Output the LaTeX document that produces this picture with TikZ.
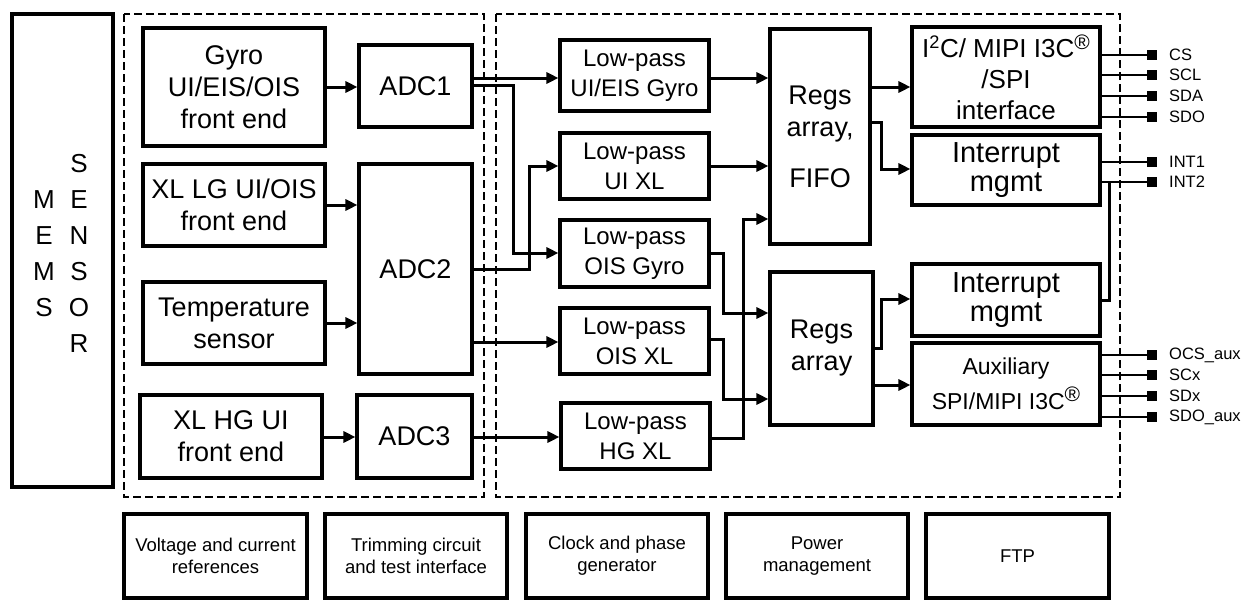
\documentclass[tikz,border=0pt]{standalone}
\usepackage{fontspec}
\setmainfont{Liberation Sans}
\usetikzlibrary{arrows.meta}
\newcommand\mybox[7][]{\node[box,#1,minimum width={#4-#2},minimum height={#5-#3}] (#6) at ({(#2+#4)/2},{(#3+#5)/2}) {#7};}
\newcommand\regmark{\raisebox{8pt}{\fontsize{21}{21}\selectfont\textregistered}}
\begin{document}
\begin{tikzpicture}[x=1pt,y=-1pt,
  box/.style={draw, line width=3.1pt, inner sep=0pt, align=center, font=\fontsize{27}{32}\selectfont},
  lp/.style={font=\fontsize{24}{30}\selectfont},
  small/.style={font=\fontsize{18.5}{22}\selectfont},
  arr/.style={line width=3pt, -{Triangle[length=12pt,width=11pt]}},
  wire/.style={line width=2.6pt},
  dbox/.style={draw, line width=2.4pt, dash pattern=on 8pt off 4pt},
  pinsq/.style={fill, minimum size=10pt, inner sep=0pt},
  pinlab/.style={anchor=west, font=\fontsize{16.5}{18}\selectfont, inner sep=0pt}]
\useasboundingbox (0,0) rectangle (1256,613);

% dashed groups
\draw[dbox] (124,14) rectangle (484,497);
\draw[dbox] (496,14) rectangle (1120,497);

% MEMS sensor
\mybox{12}{14}{113}{487}{mems}{}
\node[align=center, font=\fontsize{26}{36}\selectfont, inner sep=0pt] (memsL) at (44,254) {M\\E\\M\\S};
\node[align=center, font=\fontsize{26}{36}\selectfont, inner sep=0pt] (memsR) at (79,253) {S\\E\\N\\S\\O\\R};

% front ends and ADCs
\mybox{143}{28}{325}{146}{gyro}{Gyro\\UI/EIS/OIS\\front end}
\mybox{359}{45}{472}{127}{adc1}{ADC1}
\mybox{143}{164}{325}{246}{xllg}{XL LG UI/OIS\\front end}
\mybox{359}{164}{472}{374}{adc2}{ADC2}
\mybox{143}{282}{325}{364}{temp}{Temperature\\sensor}
\mybox{140}{395}{322}{478}{xlhg}{XL HG UI\\front end}
\mybox{357}{395}{472}{478}{adc3}{ADC3}

% low-pass filters
\mybox[lp]{560}{40}{709}{111}{lp1}{Low-pass\\UI/EIS Gyro}
\mybox[lp]{560}{133}{709}{199}{lp2}{Low-pass\\UI XL}
\mybox[lp]{560}{220}{709}{287}{lp3}{Low-pass\\OIS Gyro}
\mybox[lp]{560}{308}{709}{374}{lp4}{Low-pass\\OIS XL}
\mybox[lp]{561}{403}{710}{469}{lp5}{Low-pass\\HG XL}

% registers
\mybox{770}{29}{870}{244}{regs1}{Regs\\array,\\[19pt]FIFO}
\mybox{770}{272}{873}{425}{regs2}{Regs\\array}

% interfaces
\mybox[font=\fontsize{26}{31}\selectfont]{912}{27}{1100}{127}{i2c}{I\textsuperscript{2}C/ MIPI I3C\regmark\\/SPI\\interface}
\mybox[font=\fontsize{29}{29}\selectfont]{912}{135}{1100}{205}{int1}{Interrupt\\mgmt}
\mybox[font=\fontsize{29}{29}\selectfont]{912}{264}{1100}{336}{int2}{Interrupt\\mgmt}
\mybox[font=\fontsize{23}{35}\selectfont]{912}{343}{1100}{425}{aux}{Auxiliary\\SPI/MIPI I3C\regmark}

% bottom blocks
\mybox[small]{124}{514}{307}{598}{vref}{Voltage and current\\references}
\mybox[small]{325}{514}{507}{598}{trim}{Trimming circuit\\and test interface}
\mybox[small]{526}{514}{708}{598}{clk}{Clock and phase\\generator}
\mybox[small]{726}{514}{908}{598}{pwr}{Power\\management}
\mybox[small]{926}{514}{1109}{598}{ftp}{FTP}

% front ends -> ADCs
\draw[arr] (gyro.east |- 0,87) -- (adc1.west |- 0,87);
\draw[arr] (xllg.east |- 0,205) -- (adc2.west |- 0,205);
\draw[arr] (temp.east |- 0,323) -- (adc2.west |- 0,323);
\draw[arr] (xlhg.east |- 0,437) -- (adc3.west |- 0,437);

% ADCs -> low-pass
\draw[arr] (adc1.east |- 0,78) -- (lp1.west |- 0,78);
\draw[arr] (adc1.east |- 0,85) -- (513,85) -- (513,253) -- (lp3.west |- 0,253);
\draw[arr] (adc2.east |- 0,269) -- (529,269) -- (529,166) -- (lp2.west |- 0,166);
\draw[arr] (adc2.east |- 0,342) -- (lp4.west |- 0,342);
\draw[arr] (adc3.east |- 0,437) -- (lp5.west |- 0,437);

% low-pass -> registers
\draw[arr] (lp1.east |- 0,78) -- (regs1.west |- 0,78);
\draw[arr] (lp2.east |- 0,166) -- (regs1.west |- 0,166);
\draw[arr] (lp5.east |- 0,438) -- (743,438) -- (743,219) -- (regs1.west |- 0,219);
\draw[arr] (lp3.east |- 0,253) -- (723,253) -- (723,313) -- (regs2.west |- 0,313);
\draw[arr] (lp4.east |- 0,339) -- (723,339) -- (723,399) -- (regs2.west |- 0,399);

% registers -> interfaces
\draw[arr] (regs1.east |- 0,87) -- (i2c.west |- 0,87);
\draw[arr] (regs1.east |- 0,122) -- (881,122) -- (881,169) -- (int1.west |- 0,169);
\draw[arr] (regs2.east |- 0,348) -- (881,348) -- (881,299) -- (int2.west |- 0,299);
\draw[arr] (regs2.east |- 0,385) -- (aux.west |- 0,385);

% pins
\foreach \y/\n/\t/\b in {55/cs/CS/i2c, 75/scl/SCL/i2c, 96/sda/SDA/i2c, 117/sdo/SDO/i2c,
  162/inta/INT1/int1, 182/intb/INT2/int1,
  355/ocs/OCS\_aux/aux, 375/scx/SCx/aux, 396/sdx/SDx/aux, 417/sdoaux/SDO\_aux/aux} {
  \node[pinsq] (p\n) at (1152,\y) {};
  \node[pinlab] (l\n) at (1169,\y) {\t};
  \draw[wire] (\b.east |- p\n) -- (p\n);
}
\coordinate (j2) at (1109,182);
\draw[line width=3pt] (int2.east |- 0,300) -- (1109,300) -- (j2);
\end{tikzpicture}
\end{document}
